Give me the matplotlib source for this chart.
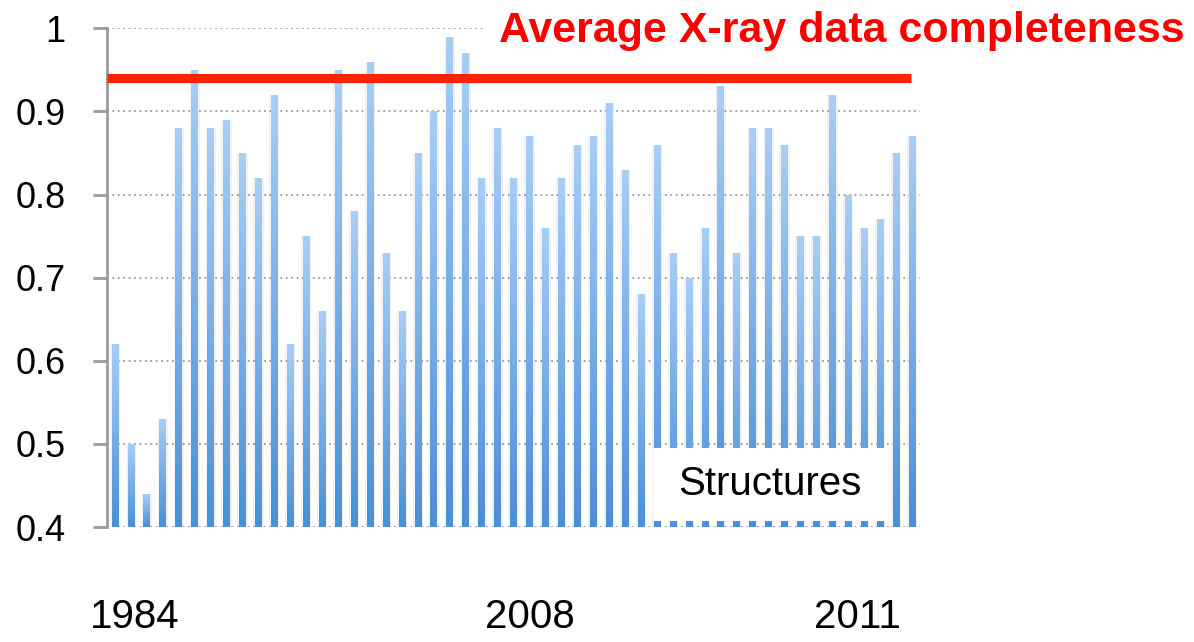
import numpy as np
import matplotlib.pyplot as plt
import matplotlib.transforms as mtransforms
from matplotlib.colors import LinearSegmentedColormap
from matplotlib.patches import Rectangle

# completeness per structure (51 bars)
completeness = [0.62, 0.50, 0.44, 0.53, 0.88, 0.95, 0.88, 0.89, 0.85, 0.82,
                0.92, 0.62, 0.75, 0.66, 0.95, 0.78, 0.96, 0.73, 0.66, 0.85,
                0.90, 0.99, 0.97, 0.82, 0.88, 0.82, 0.87, 0.76, 0.82, 0.86,
                0.87, 0.91, 0.83, 0.68, 0.86, 0.73, 0.70, 0.76, 0.93, 0.73,
                0.88, 0.88, 0.86, 0.75, 0.75, 0.92, 0.80, 0.76, 0.77, 0.85,
                0.87]
average = 0.94
ytick_vals = [0.4, 0.5, 0.6, 0.7, 0.8, 0.9, 1.0]
ytick_labels = ['0.4', '0.5', '0.6', '0.7', '0.8', '0.9', '1']
year_labels = ['1984', '2008', '2011']
year_pos = [1.25, 26.0, 46.6]

plt.rcParams['font.family'] = ['Liberation Sans', 'DejaVu Sans']

fig = plt.figure(figsize=(11.94, 6.42), dpi=100)
ax = fig.add_axes([0.0896, 0.179, 0.681, 0.777])

x = np.arange(len(completeness))
ymin = 0.4

# soft shadow behind the bars
ax.bar(x, np.array(completeness) - ymin, bottom=ymin, width=0.64,
       color='black', alpha=0.05, zorder=1)

bars = ax.bar(x, np.array(completeness) - ymin, bottom=ymin, width=0.42,
              color='none', zorder=2)

cmap = LinearSegmentedColormap.from_list('bl', ['#4a8fd8', '#a9cef8'])
grad = np.linspace(0, 1, 256).reshape(-1, 1)
for b in bars:
    x0, y0 = b.get_x(), b.get_y()
    im = ax.imshow(grad, cmap=cmap, aspect='auto', origin='lower',
                   extent=[x0, x0 + b.get_width(), y0, y0 + b.get_height()],
                   zorder=2)
    im.set_clip_path(b)

# average line
ax.plot([-0.5, 49.9], [average, average], color='#ff2200', lw=6.5,
        solid_capstyle='butt', zorder=4)

ax.set_xlim(-0.5, 50.5)
ax.set_ylim(ymin, 1.0)
ax.set_yticks(ytick_vals)
ax.set_yticklabels(ytick_labels, fontsize=26)
ax.set_xticks([])
ax.yaxis.grid(True, linestyle=(0, (1, 2)), color='#9a9a9a', lw=1.3)
ax.set_axisbelow(True)
for s in ['top', 'right', 'bottom']:
    ax.spines[s].set_visible(False)
ax.spines['left'].set_color('#9a9a9a')
ax.spines['left'].set_linewidth(2)
ax.tick_params(axis='y', length=10, width=2, color='#9a9a9a', pad=20)

# label box
ax.add_patch(Rectangle((33.75, 0.407), 14.85, 0.088, fc='white', ec='none',
                       zorder=5))
ax.text(41.1, 0.452, 'Structures', fontsize=29, ha='center', va='center',
        zorder=6)

# years under the axis
trans = mtransforms.blended_transform_factory(ax.transData, fig.transFigure)
for lab, p in zip(year_labels, year_pos):
    ax.text(p, 0.022, lab, transform=trans, fontsize=29, ha='center',
            va='baseline', clip_on=False)

fig.text(0.9925, 1 - 42 / 642, 'Average X-ray data completeness', color='red',
         fontsize=31, fontweight='bold', ha='right', va='baseline',
         bbox=dict(boxstyle='square,pad=0.35', fc='white', ec='none'))

fig.savefig('out.png', dpi=100)
